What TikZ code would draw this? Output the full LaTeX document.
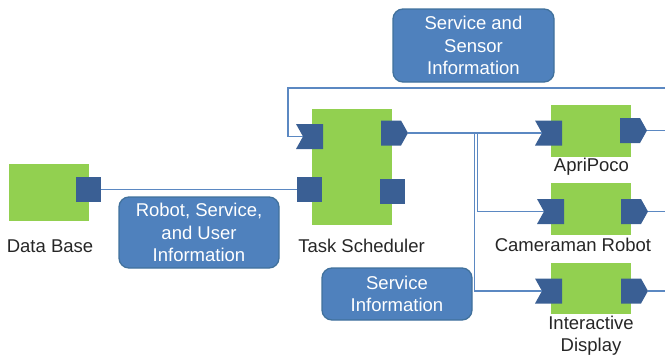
\documentclass[tikz,border=0pt]{standalone}
\usepackage{fontspec}
\setmainfont{Liberation Sans}
\definecolor{compgreen}{HTML}{92D050}
\definecolor{portblue}{HTML}{3A5F94}
\definecolor{noteblue}{HTML}{4F81BD}
\definecolor{noteedge}{HTML}{41719C}
\definecolor{wireblue}{HTML}{5B88C2}
\definecolor{labelgray}{HTML}{262626}
\tikzset{
  comp/.style={draw=none, fill=compgreen, inner sep=0pt},
  portsq/.style={fill=portblue, inner sep=0pt, minimum width=25pt, minimum height=25pt},
  % input port: square with a V notch cut into its left side
  portin/.style={inner sep=0pt, minimum width=27pt, minimum height=25pt,
    path picture={\fill[portblue]
      (path picture bounding box.north west) -- (path picture bounding box.north east)
      -- (path picture bounding box.south east) -- (path picture bounding box.south west)
      -- ([xshift=7pt]path picture bounding box.west) -- cycle;}},
  % output port: square with a pointed right side
  portout/.style={inner sep=0pt, minimum width=27pt, minimum height=25pt,
    path picture={\fill[portblue]
      (path picture bounding box.north west) -- ([xshift=-7pt]path picture bounding box.north east)
      -- (path picture bounding box.east) -- ([xshift=-7pt]path picture bounding box.south east)
      -- (path picture bounding box.south west) -- cycle;}},
  wire/.style={draw=wireblue, line width=1.3pt},
  note/.style={rectangle, rounded corners=10pt, fill=noteblue, draw=noteedge,
    line width=1.3pt, text=white, align=center, inner sep=0pt,
    font=\fontsize{18.5}{22.5}\selectfont},
  lbl/.style={text=labelgray, align=center, inner sep=0pt,
    font=\fontsize{18.5}{22.5}\selectfont}
}
\begin{document}
\begin{tikzpicture}[x=1pt,y=-1pt]
\useasboundingbox (0,0) rectangle (665,359);

% Data Base
\node[comp, minimum width=80pt, minimum height=57pt] (db) at (49,192.5) {};
\node[portsq] (dbport) at (88.5,189.5) {};
\node[lbl] (dblbl) at (50,246) {Data Base};

% Task Scheduler
\node[comp, minimum width=80pt, minimum height=116pt] (ts) at (352,167) {};
\node[portin] (tsin1) at (309.5,136.5) {};
\node[portout] (tsout1) at (394.5,133) {};
\node[portsq] (tsin2) at (309.5,189.5) {};
\node[portsq] (tsout2) at (392.5,191.5) {};
\node[lbl] (tslbl) at (361.5,246) {Task Scheduler};

% ApriPoco
\node[comp, minimum width=80pt, minimum height=52pt] (ap) at (591,131) {};
\node[portin] (apin) at (548.5,133) {};
\node[portout] (apout) at (633.5,130.5) {};
\node[lbl] (aplbl) at (591.5,167) {ApriPoco};

% Cameraman Robot
\node[comp, minimum width=80pt, minimum height=52pt] (cr) at (591,209) {};
\node[portin] (crin) at (550.5,211.5) {};
\node[portout] (crout) at (634.5,211.5) {};
\node[lbl] (crlbl) at (573,245) {Cameraman Robot};

% Interactive Display
\node[comp, minimum width=80pt, minimum height=51pt] (id) at (591,288.5) {};
\node[portin] (idin) at (548.5,291) {};
\node[portout] (idout) at (634.5,291) {};
\node[lbl] (idlbl) at (591,335.5) {Interactive\\Display};

% Off-page ends of the wires
\coordinate (fb) at (665,88);
\coordinate (apx) at (665,130.5);
\coordinate (crx) at (665,211.5);
\coordinate (idx) at (665,291);

% Connectors
\draw[wire] (dbport.east) -- (tsin2.west);
\draw[wire] (fb) -- (288,88) |- ([xshift=7pt]tsin1.west);
\draw[wire] (tsout1.east) -- ([xshift=7pt]apin.west);
\draw[wire] (tsout1.east) -- ++(69,0) |- ([xshift=7pt]crin.west);
\draw[wire] (tsout1.east) -- ++(66,0) |- ([xshift=7pt]idin.west);
\draw[wire] (apout.east) -- (apx);
\draw[wire] (crout.east) -- (crx);
\draw[wire] (idout.east) -- (idx);

% Information callouts
\node[note, minimum width=161pt, minimum height=73pt] (n1) at (473.5,45.5)
  {Service and\\Sensor\\Information};
\node[note, minimum width=160pt, minimum height=71pt] (n2) at (199,232.5)
  {Robot, Service,\\and User\\Information};
\node[note, minimum width=150pt, minimum height=52pt] (n3) at (397,294)
  {Service\\Information};
\end{tikzpicture}
\end{document}
